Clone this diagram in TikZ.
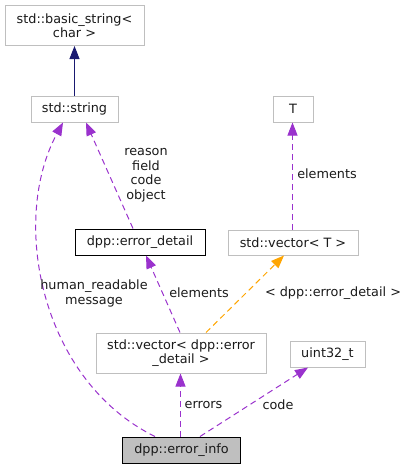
\documentclass[tikz,border=0pt]{standalone}
\usepackage{fontspec}
\setmainfont{DejaVu Sans}
\usetikzlibrary{arrows.meta}
\definecolor{boxgray}{HTML}{BFBFBF}
\definecolor{edgepurple}{HTML}{9A32CD}
\definecolor{edgeorange}{HTML}{FFA500}
\definecolor{edgenavy}{HTML}{191970}
\definecolor{txt}{HTML}{1A1A1A}
\tikzset{
  cls/.style={draw=boxgray, line width=1pt, fill=white, inner sep=0pt, align=center, text=txt,
              font=\fontsize{12.8}{14.5}\selectfont},
  boxed/.style={cls, draw=black},
  focus/.style={cls, draw=black, fill=boxgray},
  lbl/.style={align=center, inner sep=0pt, text=txt, font=\fontsize{12.8}{14.5}\selectfont},
  tip/.style={-{Triangle[length=13pt,width=10pt]}},
  usage/.style={tip, draw=edgepurple, line width=1pt, dash pattern=on 6pt off 4pt},
  templ/.style={tip, draw=edgeorange, line width=1pt, dash pattern=on 6pt off 4pt},
  inherit/.style={tip, draw=edgenavy, line width=1pt}
}
\begin{document}
\begin{tikzpicture}[x=1pt, y=-1pt]
\useasboundingbox (0,0) rectangle (408,469);
\node[cls, minimum width=139pt, minimum height=40pt] (bs) at (74.5,25.5) {std::basic\_string<\\char >};
\node[cls, minimum width=87pt, minimum height=26pt] (str) at (74.5,109) {std::string};
\node[cls, minimum width=40pt, minimum height=26pt] (T) at (293,109) {T};
\node[boxed, minimum width=130pt, minimum height=26pt] (ed) at (140,242) {dpp::error\_detail};
\node[cls, minimum width=130pt, minimum height=25pt] (vt) at (293,242.5) {std::vector< T >};
\node[cls, minimum width=170pt, minimum height=40pt] (ved) at (181,353) {std::vector< dpp::error\\\_detail >};
\node[cls, minimum width=75pt, minimum height=26pt] (u32) at (327.5,354) {uint32\_t};
\node[focus, minimum width=118pt, minimum height=26pt] (ei) at (181.5,450) {dpp::error\_info};

\draw[inherit] (str.north) -- (bs.south);
\draw[usage] (ed.north -| 133,0) -- (str.south -| 86,0);
\draw[usage] (ei.north -| 155,0) .. controls (40,380) and (10,220) .. (str.south -| 63,0);
\draw[usage] (ved.north -| 180,0) -- (ed.south -| 146,0);
\draw[templ] (ved.north -| 206,0) -- (vt.south -| 284,0);
\draw[usage] (vt.north -| 292.5,0) -- (T.south -| 292.5,0);
\draw[usage] (ei.north -| 180.5,0) -- (ved.south -| 180.5,0);
\draw[usage] (ei.north -| 200,0) -- (u32.south -| 308,0);

\node[lbl] (l1) at (146,175) {reason\\field\\code\\object};
\node[lbl] (l2) at (94,293.5) {human\_readable\\message};
\node[lbl] (l3) at (199,293) {elements};
\node[lbl] (l4) at (333,293) {< dpp::error\_detail >};
\node[lbl] (l5) at (327,174) {elements};
\node[lbl] (l6) at (203.5,405) {errors};
\node[lbl] (l7) at (278,405) {code};
\end{tikzpicture}
\end{document}
